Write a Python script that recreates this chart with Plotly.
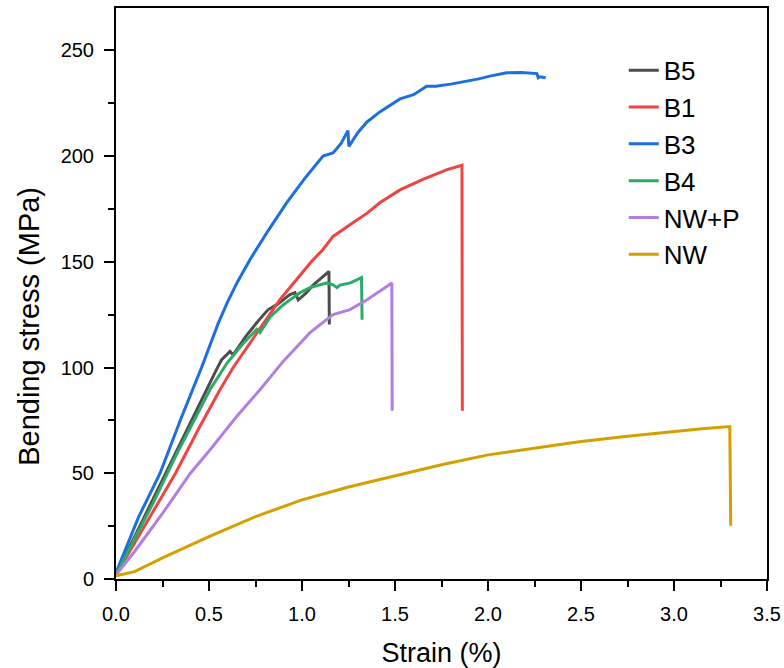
import plotly.graph_objects as go

# ---- data ----
b5_x = [0, 0.1, 0.2, 0.326, 0.488, 0.54, 0.568, 0.613, 0.63, 0.70, 0.774, 0.818, 0.87, 0.935, 0.962, 0.98, 1.02, 1.06, 1.1, 1.145, 1.147]
b5_y = [2, 20, 38, 61, 89.5, 99, 103.7, 107.6, 106, 115, 123, 127.4, 130, 134.5, 135.4, 132, 135, 139, 142, 145.4, 120.3]

b1_x = [0, 0.1, 0.2, 0.32, 0.45, 0.559, 0.63, 0.757, 0.88, 0.971, 1.05, 1.113, 1.167, 1.25, 1.35, 1.42, 1.527, 1.65, 1.78, 1.86, 1.862]
b1_y = [2, 17, 32, 50, 72, 89.5, 100, 116.5, 132, 141.6, 150, 155.8, 162, 167, 173, 178, 184, 189, 193.6, 195.6, 79.5]

b3_x = [0, 0.05, 0.12, 0.237, 0.35, 0.46, 0.55, 0.60, 0.65, 0.72, 0.82, 0.918, 1.02, 1.113, 1.167, 1.21, 1.247, 1.252, 1.30, 1.348, 1.42, 1.527, 1.60, 1.67, 1.72, 1.80, 1.887, 1.95, 2.01, 2.10, 2.18, 2.263, 2.27, 2.28, 2.31]
b3_y = [3, 14, 29, 50, 76, 100, 121, 131, 140, 151, 165, 178, 190, 200, 201.5, 206, 212, 204.5, 211, 216, 221, 227, 229, 233, 233, 234, 235.3, 236.5, 237.8, 239.4, 239.5, 239, 237, 237.5, 237]

b4_x = [0, 0.1, 0.2, 0.32, 0.505, 0.596, 0.68, 0.756, 0.774, 0.83, 0.9, 0.935, 0.99, 1.043, 1.134, 1.17, 1.188, 1.204, 1.26, 1.32, 1.323]
b4_y = [2, 19, 36, 58, 89.5, 102, 111, 118, 116.5, 124, 129.7, 132, 135.4, 137.8, 140, 139, 137.8, 139, 140, 142.5, 122.6]

nwp_x = [0, 0.1, 0.25, 0.4, 0.505, 0.65, 0.774, 0.9, 1.043, 1.12, 1.167, 1.258, 1.35, 1.483, 1.485]
nwp_y = [2, 13, 31, 50, 61, 77, 89.5, 103, 116.5, 122, 125, 127.4, 132, 140, 79.5]

nw_x = [0, 0.1, 0.25, 0.5, 0.75, 1.0, 1.25, 1.5, 1.75, 2.0, 2.25, 2.5, 2.75, 3.0, 3.15, 3.3, 3.305]
nw_y = [1.5, 3.5, 10, 20, 29.5, 37.4, 43.5, 48.8, 54, 58.7, 62, 65, 67.5, 69.8, 71, 72.1, 25.2]

series = [
    ("B5", b5_x, b5_y, "#4d4d4d"),
    ("B1", b1_x, b1_y, "#f04343"),
    ("B3", b3_x, b3_y, "#1d6fdf"),
    ("B4", b4_x, b4_y, "#2eaa68"),
    ("NW+P", nwp_x, nwp_y, "#b27ee0"),
    ("NW", nw_x, nw_y, "#d49f00"),
]

x_ticks = [0.0, 0.5, 1.0, 1.5, 2.0, 2.5, 3.0, 3.5]
y_ticks = [0, 50, 100, 150, 200, 250]

FONT = "Liberation Sans, Arial, sans-serif"

fig = go.Figure()
for name, xs, ys, col in series:
    fig.add_trace(go.Scatter(x=xs, y=ys, mode="lines", name=name,
                             line=dict(color=col, width=3)))

axis_common = dict(
    showline=True, linecolor="black", linewidth=2, mirror=True,
    showgrid=False, zeroline=False, automargin=False,
    ticks="outside", ticklen=10, tickwidth=2, tickcolor="black",
    tickfont=dict(family=FONT, size=20, color="black"),
    ticklabelstandoff=6,
)

fig.update_xaxes(range=[0, 3.5], tickvals=x_ticks,
                 ticktext=[f"{v:.1f}" for v in x_ticks],
                 minor=dict(dtick=0.25, ticks="outside", ticklen=6, tickwidth=2, tickcolor="black"),
                 title=dict(text="Strain (%)", font=dict(family=FONT, size=27, color="black"), standoff=20),
                 **axis_common)
fig.update_yaxes(range=[0, 270], tickvals=y_ticks,
                 minor=dict(dtick=25, ticks="outside", ticklen=6, tickwidth=2, tickcolor="black"),
                 **axis_common)

fig.add_annotation(text="Bending stress (MPa)", textangle=-90,
                   xref="paper", yref="paper", x=-0.134, y=0.443,
                   xanchor="center", yanchor="middle", showarrow=False,
                   font=dict(family=FONT, size=29, color="black"))

fig.update_layout(
    width=784, height=668,
    margin=dict(l=116, r=17, t=8, b=89),
    paper_bgcolor="white", plot_bgcolor="white",
    font=dict(family=FONT, color="black"),
    showlegend=True,
    legend=dict(x=0.78, y=0.932, xanchor="left", yanchor="top",
                bgcolor="rgba(0,0,0,0)", borderwidth=0,
                font=dict(family=FONT, size=26, color="black"),
                itemwidth=30, tracegroupgap=0),
)

# remove the browser's default 8px page margin so the figure fills the window exactly
fig.write_html("out.html", config={"displayModeBar": False},
               post_script="document.body.style.margin='0';")
